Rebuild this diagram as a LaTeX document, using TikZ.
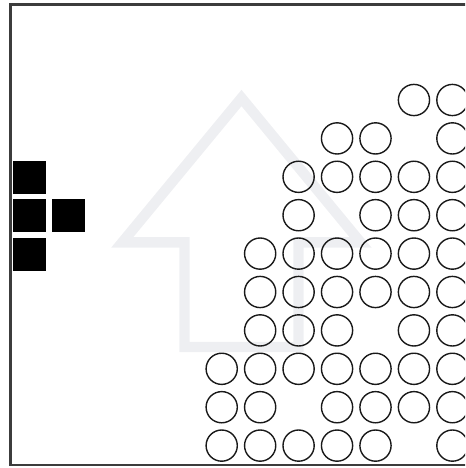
\documentclass[tikz,border=0pt]{standalone}
\usepackage{tikz}
\usetikzlibrary{positioning}
\usepackage{xcolor}
\definecolor{arrowgray}{RGB}{238,239,242}
\definecolor{framegray}{RGB}{60,60,60}

\tikzset{
  ball/.style={circle, draw=black!90, line width=1.05pt, inner sep=0pt, minimum size=23.4pt},
  block/.style={rectangle, fill=black, inner sep=0pt, minimum size=24.8pt}
}

\begin{document}
\begin{tikzpicture}[x=0.75pt, y=-0.75pt]
  \useasboundingbox (0,0) rectangle (465,468);
  \clip (0,0) rectangle (465,468);

  % Frame (open at the right)
  \draw[framegray, line width=1.9pt] (470,4.6) -- (10.3,4.6) -- (10.3,465) -- (470,465);

  % Faint arrow in the background
  \draw[arrowgray, line width=7.8pt, line join=miter]
    (241.5,98) -- (360.5,242.3) -- (298.5,242.3) -- (298.5,347)
    -- (184.5,347) -- (184.5,242.3) -- (122.3,242.3) -- cycle;

  % Black squares (left)
  \node[block] (sqa) at (29.5,177.2) {};
  \node[block] (sqb) at (29.5,215.5) {};
  \node[block] (sqc) at (68.3,215.5) {};
  \node[block] (sqd) at (29.5,254.1) {};

  % Circles, row by row
  \foreach \r/\cols in {0/{5,6}, 1/{3,4,6}, 2/{2,3,4,5,6}, 3/{2,4,5,6},
                        4/{1,2,3,4,5,6}, 5/{1,2,3,4,5,6}, 6/{1,2,3,5,6},
                        7/{0,1,2,3,4,5,6}, 8/{0,1,3,4,5,6}, 9/{0,1,2,3,4,6}}
    \foreach \c in \cols
      \node[ball] (b-\r-\c) at ({221.7+38.45*\c},{100+38.4*\r}) {};
\end{tikzpicture}
\end{document}
